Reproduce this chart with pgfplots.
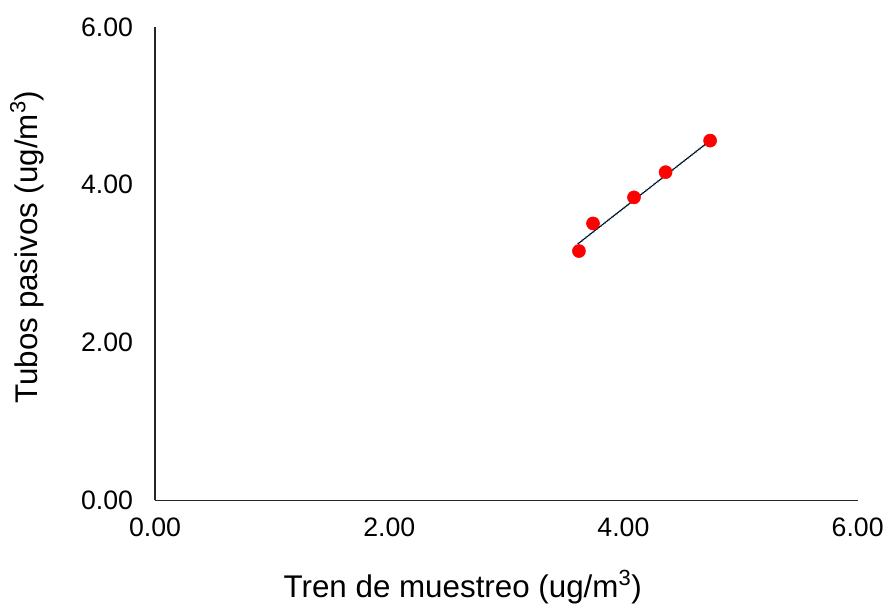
\documentclass[border=0pt]{standalone}
\usepackage{fontspec}
\setmainfont{Liberation Sans}
\usepackage{pgfplots}
\pgfplotsset{compat=1.18}

\begin{document}
\begin{tikzpicture}
\begin{axis}[
  at={(0,0)}, anchor=south west,
  scale only axis,
  width=527pt, height=355pt,
  xmin=0, xmax=6, ymin=0, ymax=6,
  axis lines=left,
  axis line style={black!85, line width=0.9pt, -},
  xtick={0,2,4,6}, ytick={0,2,4,6},
  major tick length=0pt,
  tick label style={font=\fontsize{20}{24}\selectfont},
  /pgf/number format/.cd, fixed, fixed zerofill, precision=2, assume math mode=true,
  /pgfplots/.cd,
  xticklabel style={yshift=-10pt},
  yticklabel style={xshift=-13pt},
  xlabel={Tren de muestreo (ug/m\textsuperscript{3})},
  ylabel={Tubos pasivos (ug/m\textsuperscript{3})},
  label style={font=\fontsize{23.5}{28}\selectfont},
  x label style={at={(axis description cs:0.438,0)}, anchor=center, yshift=-65pt},
  y label style={at={(axis description cs:-0.182,0.535)}, anchor=center},
  clip=false,
]
% trend line (linear fit)
\addplot[black, line width=0.7pt] coordinates {(3.61,3.25) (4.74,4.56)};
\addplot[color={rgb,255:red,91;green,155;blue,213}, line width=1.6pt, dash pattern=on 1.2pt off 2.4pt] coordinates {(3.61,3.25) (4.74,4.56)};
\addplot[black, line width=0.4pt] coordinates {(3.61,3.25) (4.74,4.56)};
% data
\addplot[only marks, mark=*, mark size=4.9pt, mark options={fill=red, draw=red}]
  coordinates {(3.62,3.16) (3.74,3.51) (4.09,3.84) (4.36,4.16) (4.74,4.56)};
\end{axis}
\pgfresetboundingbox
\path[use as bounding box] (-116.25pt,-78.75pt) rectangle (549.75pt,375.25pt);
\end{tikzpicture}
\end{document}
